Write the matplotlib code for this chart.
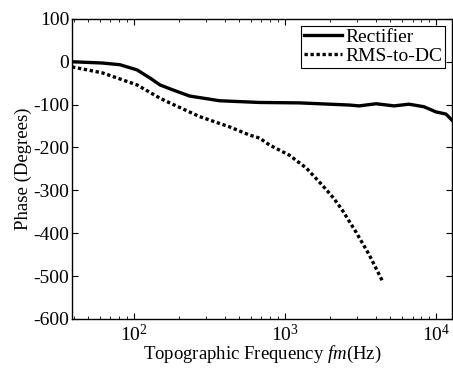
import numpy as np
import matplotlib
matplotlib.use('Agg')
import matplotlib.pyplot as plt

plt.rcParams['font.family'] = ['Liberation Serif', 'DejaVu Serif']
plt.rcParams['mathtext.fontset'] = 'custom'
plt.rcParams['mathtext.it'] = 'Liberation Serif:italic'
plt.rcParams['mathtext.rm'] = 'Liberation Serif'
plt.rcParams['axes.unicode_minus'] = False

# Rectifier (solid)
rect_f = [39, 62, 81, 105, 128, 149, 173, 234, 370, 679, 1247, 2668, 3105, 4020,
          5285, 6637, 8337, 10000, 11650, 12760]
rect_p = [0, -3, -7, -19, -38, -54, -63, -80, -91, -95, -96, -101, -103, -98,
          -103, -99, -105, -117, -122, -136]

# RMS-to-DC (dotted)
rms_f = [39, 62, 105, 149, 173, 273, 431, 583, 679, 790, 1071, 1387, 1770, 2100,
         2399, 2966, 3614, 4403]
rms_p = [-12, -26, -54, -85, -96, -128, -152, -171, -178, -194, -218, -248, -288,
         -318, -346, -398, -450, -510]

yticks = [100, 0, -100, -200, -300, -400, -500, -600]

fig = plt.figure(figsize=(4.53, 3.70), dpi=100)
ax = fig.add_axes([0.159, 0.138, 0.839, 0.811])

ax.semilogx(rect_f, rect_p, color='black', lw=2.4, label='Rectifier')
ax.semilogx(rms_f, rms_p, color='black', lw=2.4, linestyle=(0, (1, 0.8)), label='RMS-to-DC')

ax.set_xlim(39, 12800)
ax.set_ylim(-600, 100)
ax.set_yticks(yticks)
ax.set_yticklabels([str(v) for v in yticks])

ax.tick_params(which='both', direction='in', top=True, right=True, labelsize=14)
ax.tick_params(which='major', length=4)
ax.tick_params(which='minor', length=2)
ax.tick_params(axis='y', pad=2)
for s in ax.spines.values():
    s.set_linewidth(1.0)

ax.set_xlabel('Topographic Frequency $\\mathit{fm}$(Hz)', fontsize=13.5, labelpad=-1)
ax.set_ylabel('Phase (Degrees)', fontsize=13.5, labelpad=1)

leg = ax.legend(loc='upper right', fontsize=14, fancybox=False, framealpha=1,
                edgecolor='black', handlelength=2.0, handletextpad=0.15,
                borderpad=0.15, labelspacing=0.05, borderaxespad=0.35)
leg.get_frame().set_linewidth(0.8)

fig.savefig('out.png', dpi=100)
